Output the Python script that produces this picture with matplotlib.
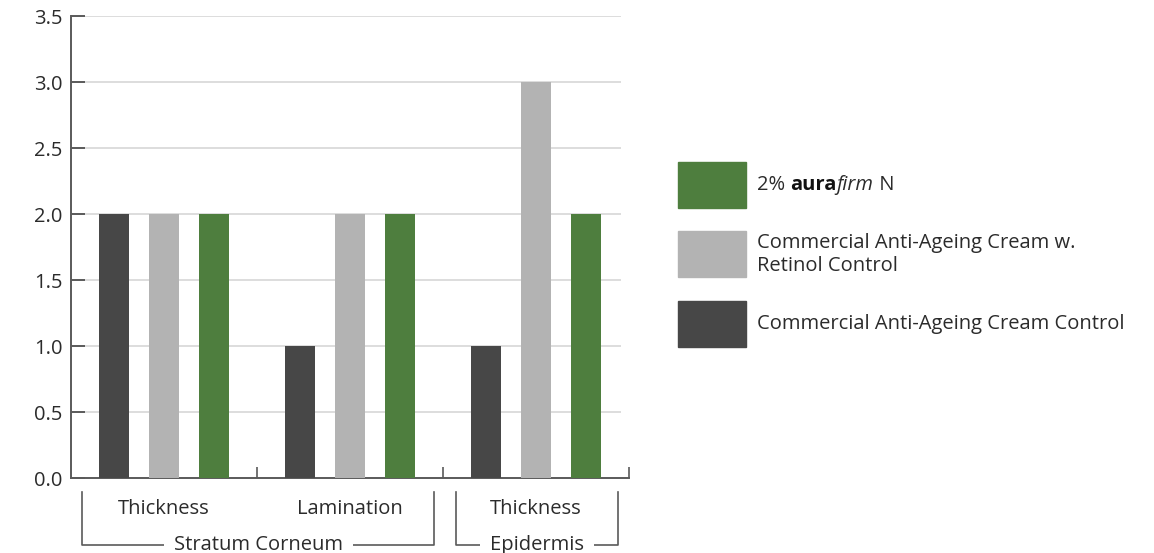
import matplotlib
matplotlib.use("Agg")
import matplotlib.pyplot as plt
import matplotlib.transforms as mtransforms
from matplotlib.patches import Rectangle
import numpy as np

plt.rcParams['font.family'] = ['Open Sans', 'DejaVu Sans']

# ---- data ----
sub_labels = ["Thickness", "Lamination", "Thickness"]
group_labels = ["Stratum Corneum", "Epidermis"]
control = [2, 1, 1]          # Commercial Anti-Ageing Cream Control
retinol = [2, 2, 3]          # Commercial Anti-Ageing Cream w. Retinol Control
aurafirm = [2, 2, 2]         # 2% aurafirm N
yticks = [0.0, 0.5, 1.0, 1.5, 2.0, 2.5, 3.0, 3.5]

c_dark = "#474747"
c_gray = "#b3b3b3"
c_green = "#4e7e3e"
c_text = "#2b2b2b"
c_axis = "#5a5a5a"
fs = 14.5

W, H = 1154, 553
fig = plt.figure(figsize=(W / 100, H / 100), dpi=100)
ax = fig.add_axes([71 / W, 75 / H, 558 / W, 462 / H])

x = np.arange(len(sub_labels))
bw = 0.161
off = 0.269
ax.bar(x - off, control, bw, color=c_dark, zorder=3)
ax.bar(x, retinol, bw, color=c_gray, zorder=3)
ax.bar(x + off, aurafirm, bw, color=c_green, zorder=3)

ax.set_xlim(-0.5, 2.5)
ax.set_ylim(0, 3.5)

# horizontal guide lines
ax.hlines(yticks[1:], -0.5, 2.455, color="#dddddd", lw=1.4, zorder=1)

for s in ["top", "right"]:
    ax.spines[s].set_visible(False)
for s in ["left", "bottom"]:
    ax.spines[s].set_color(c_axis)
    ax.spines[s].set_linewidth(1.4)

ax.set_yticks(yticks)
ax.set_yticklabels([f"{v:.1f}" for v in yticks])
ax.tick_params(axis="y", direction="in", length=10, width=1.4, color=c_axis,
               labelsize=fs, labelcolor=c_text, pad=6)
ax.set_xticks([])
ax.set_xticks([0.5, 1.5, 2.5], minor=True)
ax.tick_params(axis="x", which="minor", direction="in", length=8, width=1.2,
               color=c_axis, labelbottom=False)

# category labels and brackets below the axis
tr = mtransforms.blended_transform_factory(ax.transData, ax.transAxes)
y_sub = -31 / 462
for xi, lab in zip(x, sub_labels):
    ax.text(xi, y_sub, lab, transform=tr, ha="center", va="center",
            fontsize=fs, color=c_text)

y_top = -14 / 462
y_bot = -67 / 462
brackets = [(-0.44, 1.452), (1.57, 2.44)]
for (x0, x1), lab in zip(brackets, group_labels):
    ax.plot([x0, x0, x1, x1], [y_top, y_bot, y_bot, y_top], transform=tr,
            color=c_axis, lw=1.2, clip_on=False, zorder=2)
    ax.text((x0 + x1) / 2, y_bot, lab, transform=tr, ha="center", va="center",
            fontsize=fs, color=c_text, zorder=3,
            bbox=dict(boxstyle="square,pad=0.5", fc="white", ec="none"))

# legend
def fx(px):
    return px / W

def fy(py):
    return 1 - py / H

leg_colors = [c_green, c_gray, c_dark]
leg_tops = [162, 231, 301]
for col, top in zip(leg_colors, leg_tops):
    fig.add_artist(Rectangle((fx(678), fy(top + 46)), 68 / W, 46 / H,
                             transform=fig.transFigure, color=col))

t0 = fig.text(fx(757), fy(185), "2% ", fontsize=fs, color=c_text,
              va="center", ha="left")
a1 = fig.add_artist(plt.Annotation("aura", xy=(1, 0), xycoords=t0,
                                   va="bottom", ha="left", fontsize=fs,
                                   color="#111111", weight="bold"))
a2 = fig.add_artist(plt.Annotation("firm", xy=(1, 0), xycoords=a1,
                                   va="bottom", ha="left", fontsize=fs,
                                   color=c_text, style="italic"))
fig.add_artist(plt.Annotation(" N", xy=(1, 0), xycoords=a2,
                              va="bottom", ha="left", fontsize=fs,
                              color=c_text))

fig.text(fx(757), fy(254), "Commercial Anti-Ageing Cream w.\nRetinol Control",
         fontsize=fs, color=c_text, va="center", ha="left", linespacing=1.2)
fig.text(fx(757), fy(324), "Commercial Anti-Ageing Cream Control",
         fontsize=fs, color=c_text, va="center", ha="left")

fig.savefig("out.png", dpi=100)
